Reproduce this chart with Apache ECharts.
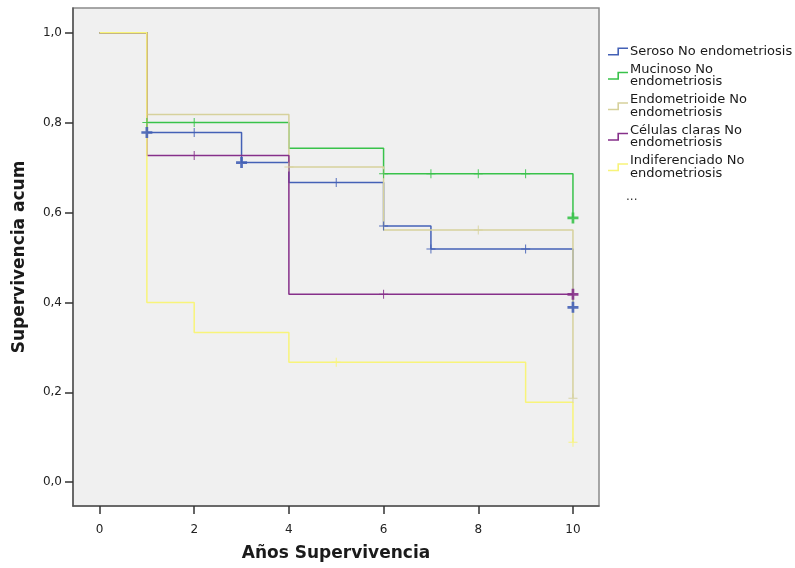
<!DOCTYPE html>
<html>
<head>
<meta charset="utf-8">
<script src="https://cdn.jsdelivr.net/npm/echarts@6/dist/echarts.min.js"></script>
<style>
html,body{margin:0;padding:0;background:#fff;}
#chart{width:795px;height:568px;}
</style>
</head>
<body>
<div id="chart"></div>
<script>
// ---- Data ----
const seriesNames = ["Seroso No endometriosis", "Mucinoso No endometriosis", "Endometrioide No endometriosis", "Células claras No endometriosis", "Indiferenciado No endometriosis"];
const legendLabels = ["Seroso No endometriosis", "Mucinoso No\nendometriosis", "Endometrioide No\nendometriosis", "Células claras No\nendometriosis", "Indiferenciado No\nendometriosis"];

const serosoX = [0, 1, 3, 4, 6, 7, 10];
const serosoY = [1, 0.778, 0.711, 0.667, 0.570, 0.519, 0.389];
const mucinosoX = [0, 1, 4, 6, 10];
const mucinosoY = [1, 0.800, 0.743, 0.686, 0.588];
const endometrioideX = [0, 1, 4, 6, 10];
const endometrioideY = [1, 0.818, 0.701, 0.561, 0.187];
const clarasX = [0, 1, 4, 10];
const clarasY = [1, 0.727, 0.418, 0.418];
const indifX = [0, 1, 2, 4, 9, 10];
const indifY = [1, 0.400, 0.333, 0.267, 0.178, 0.089];

// censored observations
const serosoCensX = [1, 2, 3, 5, 6, 7, 9, 10];
const serosoCensY = [0.778, 0.778, 0.711, 0.667, 0.570, 0.519, 0.519, 0.389];
const serosoCensBold = [1, 0, 1, 0, 0, 0, 0, 1];
const mucinosoCensX = [1, 2, 6, 7, 8, 9, 10];
const mucinosoCensY = [0.800, 0.800, 0.686, 0.686, 0.686, 0.686, 0.588];
const mucinosoCensBold = [0, 0, 0, 0, 0, 0, 1];
const endometrioideCensX = [4, 8, 10];
const endometrioideCensY = [0.701, 0.561, 0.187];
const endometrioideCensBold = [0, 0, 0];
const clarasCensX = [2, 6, 10];
const clarasCensY = [0.727, 0.418, 0.418];
const clarasCensBold = [0, 0, 1];
const indifCensX = [5, 10];
const indifCensY = [0.267, 0.089];
const indifCensBold = [0, 0];

const xTickValues = [0, 2, 4, 6, 8, 10];
const yTickValues = [0, 0.2, 0.4, 0.6, 0.8, 1.0];

// ---- Styles ----
const colors = ["#4461b6", "#38c24a", "#d6d19c", "#86308a", "#f8f47a"];
const FONT = "DejaVu Sans";
const plusThin = "path://M4,0H5V4H9V5H5V9H4V5H0V4H4Z";
const plusBold = "path://M3.4,0H5.6V3.4H9V5.6H5.6V9H3.4V5.6H0V3.4H3.4Z";
const stepIcon = "path://M0,6.4H9.4V0H20V1.6H11V8H0Z";

const curves = [
  [serosoX, serosoY], [mucinosoX, mucinosoY], [endometrioideX, endometrioideY], [clarasX, clarasY], [indifX, indifY]
];
const censors = [
  [serosoCensX, serosoCensY, serosoCensBold],
  [mucinosoCensX, mucinosoCensY, mucinosoCensBold],
  [endometrioideCensX, endometrioideCensY, endometrioideCensBold],
  [clarasCensX, clarasCensY, clarasCensBold],
  [indifCensX, indifCensY, indifCensBold]
];

const series = [];
curves.forEach((c, i) => {
  series.push({
    name: seriesNames[i],
    type: 'line',
    step: 'end',
    symbol: 'none',
    data: c[0].map((x, k) => [x, c[1][k]]),
    lineStyle: { color: colors[i], width: 1.5 },
    itemStyle: { color: colors[i] },
    z: 2 + i
  });
});
censors.forEach((c, i) => {
  series.push({
    name: 'cens' + i,
    type: 'scatter',
    data: c[0].map((x, k) => ({
      value: [x, c[1][k]],
      symbol: c[2][k] ? plusBold : plusThin,
      symbolSize: c[2][k] ? 11 : 9
    })),
    itemStyle: { color: colors[i], opacity: 0.9 },
    z: 10 + i
  });
});

const chart = echarts.init(document.getElementById('chart'), null, { renderer: 'canvas' });
chart.setOption({
  animation: false,
  backgroundColor: '#ffffff',
  textStyle: { fontFamily: FONT },
  grid: {
    left: 73, right: 196, top: 8, bottom: 62,
    show: true, backgroundColor: '#f0f0f0', borderColor: '#8a8a8a', borderWidth: 1.5
  },
  legend: {
    data: seriesNames.map(n => ({ name: n, icon: stepIcon })),
    orient: 'vertical',
    left: 603, top: 40,
    itemWidth: 20, itemHeight: 8, itemGap: 5,
    selectedMode: false,
    formatter: name => legendLabels[seriesNames.indexOf(name)],
    textStyle: { fontFamily: FONT, fontSize: 13, color: '#1a1a1a', lineHeight: 12.5, padding: [0, 0, 0, -3] }
  },
  graphic: [{
    type: 'text', left: 626, top: 191,
    style: { text: '...', fontFamily: FONT, fontSize: 12, fill: '#333' }
  }],
  xAxis: {
    type: 'value', min: -0.56, max: 10.55,
    name: 'Años Supervivencia', nameLocation: 'middle', nameGap: 39,
    nameTextStyle: { fontFamily: FONT, fontWeight: 'bold', fontSize: 17, color: '#1a1a1a' },
    axisLine: { show: true, onZero: false, lineStyle: { color: '#555', width: 1.5 } },
    axisTick: { show: true, inside: false, length: 8, customValues: xTickValues, lineStyle: { color: '#333', width: 1.5 } },
    axisLabel: { customValues: xTickValues, margin: 18, fontFamily: FONT, fontSize: 12, color: '#222', formatter: v => String(v) },
    splitLine: { show: false }
  },
  yAxis: {
    type: 'value', min: -0.053, max: 1.055,
    name: 'Supervivencia acum', nameLocation: 'middle', nameGap: 45,
    nameTextStyle: { fontFamily: FONT, fontWeight: 'bold', fontSize: 17, color: '#1a1a1a' },
    axisLine: { show: true, onZero: false, lineStyle: { color: '#555', width: 1.5 } },
    axisTick: { show: true, inside: false, length: 8, customValues: yTickValues, lineStyle: { color: '#333', width: 1.5 } },
    axisLabel: { customValues: yTickValues, margin: 11, fontFamily: FONT, fontSize: 12, color: '#222', formatter: v => v.toFixed(1).replace('.', ',') },
    splitLine: { show: false }
  },
  series: series
});
</script>
</body>
</html>
